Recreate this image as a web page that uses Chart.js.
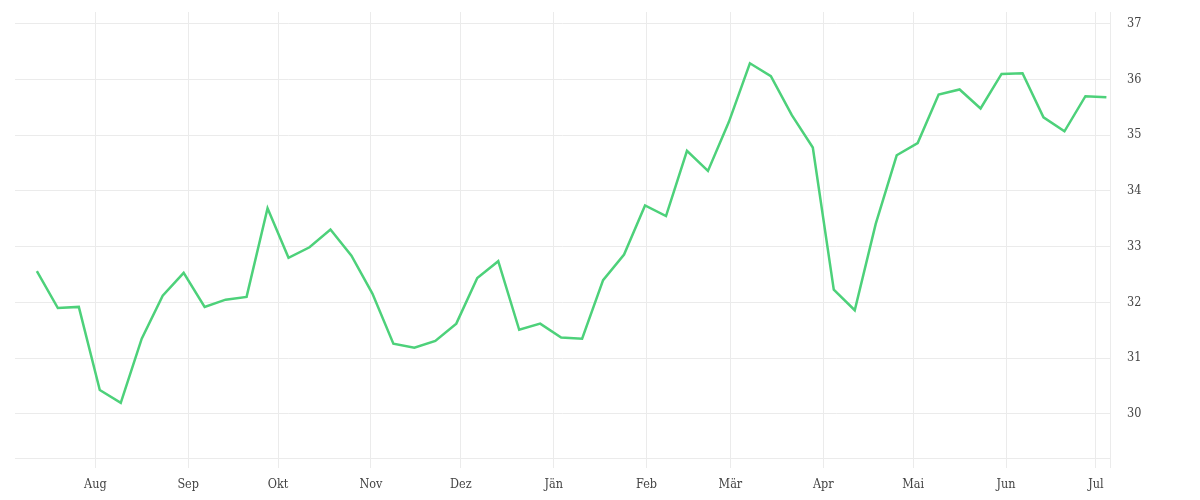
<!DOCTYPE html>
<html>
<head>
<meta charset="utf-8">
<script src="https://cdn.jsdelivr.net/npm/chart.js@4.4.1/dist/chart.umd.min.js"></script>
<style>
html,body{margin:0;padding:0;background:#fff;}
#wrap{width:1200px;height:500px;position:relative;}
</style>
</head>
<body>
<div id="wrap"><canvas id="c"></canvas></div>
<script>
const axisOrigin = '2022-07-05T00:00:00Z';
const dates = [
 '2022-07-12','2022-07-19','2022-07-26','2022-08-02','2022-08-09','2022-08-16','2022-08-23','2022-08-30',
 '2022-09-06','2022-09-13','2022-09-20','2022-09-27','2022-10-04','2022-10-11','2022-10-18','2022-10-25',
 '2022-11-01','2022-11-08','2022-11-15','2022-11-22','2022-11-29','2022-12-06','2022-12-13','2022-12-20',
 '2022-12-27','2023-01-03','2023-01-10','2023-01-17','2023-01-24','2023-01-31','2023-02-07','2023-02-14',
 '2023-02-21','2023-02-28','2023-03-07','2023-03-14','2023-03-21','2023-03-28','2023-04-04','2023-04-11',
 '2023-04-18','2023-04-25','2023-05-02','2023-05-09','2023-05-16','2023-05-23','2023-05-30','2023-06-06',
 '2023-06-13','2023-06-20','2023-06-27','2023-07-04'
];
const values = [
 32.56,31.90,31.92,30.43,30.20,31.35,32.12,32.53,31.92,32.05,
 32.10,33.69,32.80,32.99,33.31,32.84,32.16,31.26,31.19,31.31,
 31.62,32.44,32.74,31.51,31.62,31.37,31.35,32.40,32.86,33.74,
 33.55,34.72,34.36,35.24,36.29,36.06,35.36,34.78,32.23,31.86,
 33.41,34.64,34.86,35.73,35.82,35.48,36.10,36.11,35.32,35.07,
 35.70,35.68
];
const monthStarts = ['2022-08-01','2022-09-01','2022-10-01','2022-11-01','2022-12-01','2023-01-01','2023-02-01','2023-03-01','2023-04-01','2023-05-01','2023-06-01','2023-07-01'];
const monthLabels = ['Aug','Sep','Okt','Nov','Dez','Jän','Feb','Mär','Apr','Mai','Jun','Jul'];
const yTicks = [30,31,32,33,34,35,36,37];
const xMin = 0.2, xMax = 365.7, yMin = 29.21, yMax = 37.21;

const DAY = 86400000;
const origin = Date.parse(axisOrigin);
const toDay = (s, t) => (Date.parse(s + t) - origin) / DAY;
const points = dates.map((d, i) => ({x: toDay(d, 'T12:00:00Z'), y: values[i]}));
const monthDays = monthStarts.map(d => toDay(d, 'T00:00:00Z'));

const font = {family: '"DejaVu Serif Condensed", "DejaVu Serif", serif', size: 12.5};
const grid = '#ebebeb';

new Chart(document.getElementById('c'), {
  type: 'line',
  data: {datasets: [{
    data: points,
    borderColor: '#4dd17a',
    borderWidth: 2.5,
    pointRadius: 0,
    pointHoverRadius: 0,
    tension: 0,
    fill: false
  }]},
  options: {
    responsive: true,
    maintainAspectRatio: false,
    animation: false,
    events: [],
    layout: {padding: {left: 15, top: 12, right: 0, bottom: 0}},
    plugins: {legend: {display: false}, tooltip: {enabled: false}},
    scales: {
      x: {
        type: 'linear',
        min: xMin, max: xMax,
        grid: {color: grid, lineWidth: 1, drawTicks: true, tickLength: 10},
        border: {display: true, color: grid},
        afterBuildTicks: s => { s.ticks = monthDays.concat([xMax]).map(v => ({value: v})); },
        afterFit: s => { s.height = 42; s.paddingLeft = 0; s.paddingRight = 0; },
        ticks: {
          autoSkip: false, maxRotation: 0, padding: 9,
          color: '#444', font: font,
          callback: (v) => { const i = monthDays.indexOf(v); return i >= 0 ? monthLabels[i] : ''; }
        }
      },
      y: {
        position: 'right',
        min: yMin, max: yMax,
        grid: {color: grid, lineWidth: 1, drawTicks: false},
        border: {display: true, color: grid},
        afterBuildTicks: s => { s.ticks = yTicks.map(v => ({value: v})); },
        afterFit: s => { s.width = 90; s.paddingTop = 0; s.paddingBottom = 0; },
        ticks: {padding: 17, color: '#444', font: font, callback: v => String(v)}
      }
    }
  }
});
</script>
</body>
</html>
